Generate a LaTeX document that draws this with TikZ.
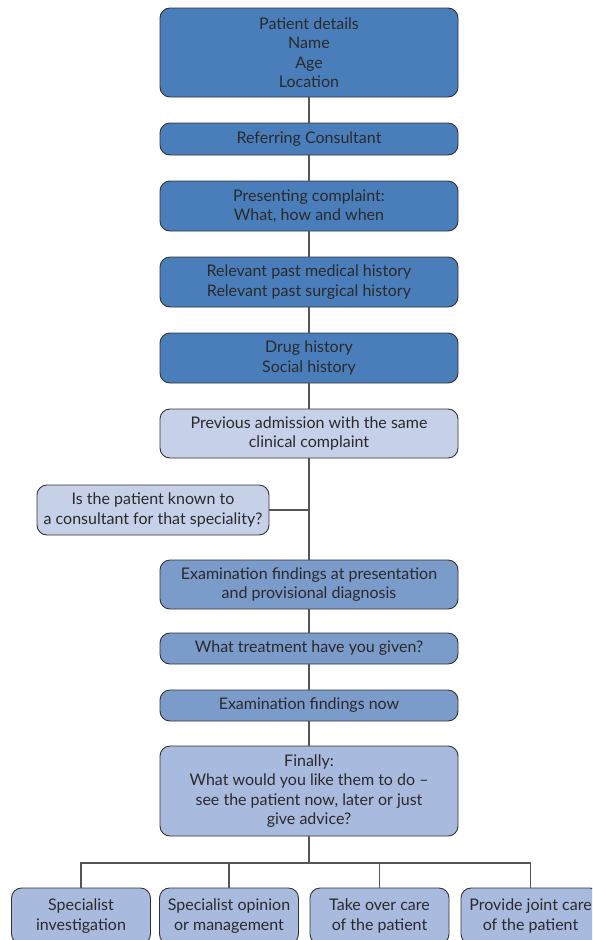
\documentclass[tikz,border=0pt]{standalone}
\usepackage{fontspec}
\setmainfont{Lato}
\usetikzlibrary{positioning}
\definecolor{dkblue}{HTML}{4A7EBB}
\definecolor{ltblue}{HTML}{C6D0E8}
\definecolor{mdblue}{HTML}{7B9BCB}
\definecolor{fnblue}{HTML}{A9BADF}
\definecolor{edge}{HTML}{333333}
\definecolor{txt}{HTML}{2A2A2A}
\definecolor{wire}{HTML}{555555}
\tikzset{
  box/.style={draw=edge, line width=0.9pt, rounded corners=10pt, align=center,
    inner sep=0pt, text=txt, font=\fontsize{16}{19.5}\selectfont},
  mainbox/.style={box, minimum width=298pt},
  botbox/.style={box, minimum width=139pt, minimum height=56pt, fill=fnblue},
  wirestyle/.style={draw=wire, line width=1.1pt}
}
\begin{document}
\begin{tikzpicture}[x=1pt,y=-1pt]
\useasboundingbox (0,0) rectangle (592,940);
\clip (0,0) rectangle (592,940);
\node[mainbox, fill=dkblue, minimum height=89pt] (b1) at (309,52.5) {Patient details\\Name\\Age\\Location};
\node[mainbox, fill=dkblue, minimum height=32pt] (b2) at (309,139) {Referring Consultant};
\node[mainbox, fill=dkblue, minimum height=50pt] (b3) at (309,206) {Presenting complaint:\\What, how and when};
\node[mainbox, fill=dkblue, minimum height=50pt] (b4) at (309,282) {Relevant past medical history\\Relevant past surgical history};
\node[mainbox, fill=dkblue, minimum height=50pt] (b5) at (309,358) {Drug history\\Social history};
\node[mainbox, fill=ltblue, minimum height=49pt] (b6) at (309,433.5) {Previous admission with the same\\clinical complaint};
\node[box, fill=ltblue, minimum width=232pt, minimum height=50pt] (side) at (153,510) {Is the patient known to\\a consultant for that speciality?};
\node[mainbox, fill=mdblue, minimum height=49pt] (b7) at (309,584.5) {Examination findings at presentation\\and provisional diagnosis};
\node[mainbox, fill=mdblue, minimum height=31pt] (b8) at (309,648.5) {What treatment have you given?};
\node[mainbox, fill=mdblue, minimum height=31pt] (b9) at (309,705.5) {Examination findings now};
\node[mainbox, fill=fnblue, minimum height=90pt] (b10) at (309,791) {Finally:\\What would you like them to do --\\see the patient now, later or just\\give advice?};
\node[botbox] (c1) at (81,916) {Specialist\\investigation};
\node[botbox] (c2) at (229,916) {Specialist opinion\\or management};
\node[botbox] (c3) at (379.5,916) {Take over care\\of the patient};
\node[botbox] (c4) at (530.5,916) {Provide joint care\\of the patient};
\coordinate (br) at (309,863);
\draw[wirestyle] (b1.south) -- (b2.north);
\draw[wirestyle] (b2.south) -- (b3.north);
\draw[wirestyle] (b3.south) -- (b4.north);
\draw[wirestyle] (b4.south) -- (b5.north);
\draw[wirestyle] (b5.south) -- (b6.north);
\draw[wirestyle] (b6.south) -- (b7.north);
\draw[wirestyle] (side.east) -- (side.east -| b6.south);
\draw[wirestyle] (b7.south) -- (b8.north);
\draw[wirestyle] (b8.south) -- (b9.north);
\draw[wirestyle] (b9.south) -- (b10.north);
\draw[wirestyle] (b10.south) -- (br);
\draw[wirestyle] (c1.north) |- (br);
\draw[wirestyle] (c2.north) |- (br);
\draw[wirestyle] (c3.north) |- (br);
\draw[wirestyle] (c4.north) |- (br);
\end{tikzpicture}
\end{document}
